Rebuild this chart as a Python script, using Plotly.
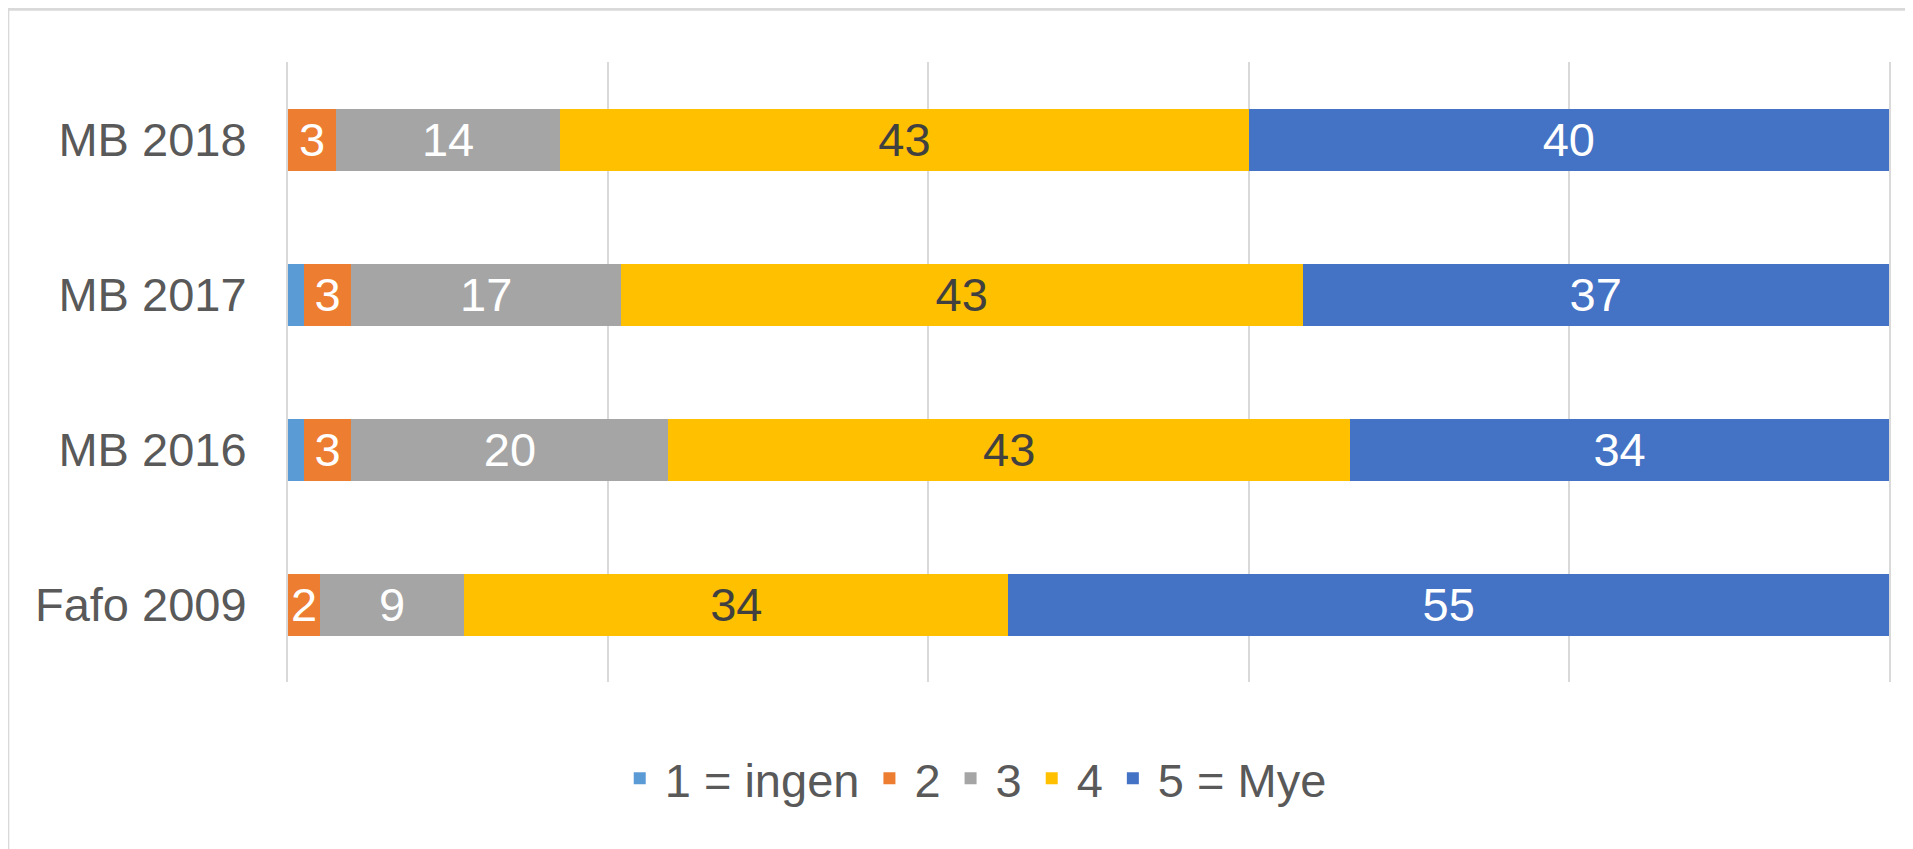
import plotly.graph_objects as go

categories = ['Fafo 2009', 'MB 2016', 'MB 2017', 'MB 2018']
series_names = ['1 = ingen', '2', '3', '4', '5 = Mye']
v1 = [0, 1, 1, 0]
v2 = [2, 3, 3, 3]
v3 = [9, 20, 17, 14]
v4 = [34, 43, 43, 43]
v5 = [55, 34, 37, 40]

colors = ['#5B9BD5', '#ED7D31', '#A5A5A5', '#FFC000', '#4472C4']
text_colors = ['#FFFFFF', '#FFFFFF', '#FFFFFF', '#404040', '#FFFFFF']
FONT = 'Liberation Sans, Arial'
SIZE = 47
GRID = '#D9D9D9'

fig = go.Figure()
for i, (name, vals) in enumerate(zip(series_names, [v1, v2, v3, v4, v5])):
    fig.add_trace(go.Bar(
        y=categories, x=vals, name=name, orientation='h',
        marker=dict(color=colors[i], line=dict(width=0)),
        text=[str(v) for v in vals],
        textposition='none' if i == 0 else 'inside',
        insidetextanchor='middle', textangle=0,
        textfont=dict(color=text_colors[i], size=SIZE, family=FONT),
        hoverinfo='x+y+name',
    ))

# page body has an 8px margin, so the figure is made a bit smaller
fig.update_layout(
    barmode='stack', barnorm='percent', bargap=0.6,
    width=1905, height=841,
    margin=dict(l=280, r=24, t=54, b=167),
    paper_bgcolor='white', plot_bgcolor='white',
    font=dict(family=FONT, size=SIZE, color='#595959'),
    uniformtext=dict(minsize=SIZE, mode='show'),
    xaxis=dict(range=[0, 100], dtick=20, showticklabels=False, showgrid=True,
               gridcolor=GRID, gridwidth=2, zeroline=False, showline=False),
    yaxis=dict(showgrid=False, zeroline=False, showline=True, mirror=True,
               linecolor=GRID, linewidth=2, ticks='', ticklabelstandoff=30,
               automargin=False),
    legend=dict(orientation='h', x=0.428, xanchor='center', y=-0.156, yanchor='middle',
                traceorder='normal', font=dict(size=SIZE), itemwidth=40),
    shapes=[dict(type='rect', xref='paper', yref='paper', x0=-0.175, x1=1.03,
                 y0=-0.3, y1=1.085, line=dict(color=GRID, width=3), layer='below')],
)

fig.write_html('out.html')
